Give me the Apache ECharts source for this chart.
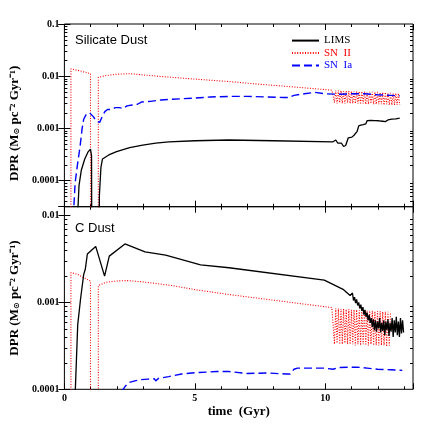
<!DOCTYPE html>
<html>
<head>
<meta charset="utf-8">
<script src="https://cdn.jsdelivr.net/npm/echarts@6.0.0/dist/echarts.min.js"></script>
<style>
html, body { margin: 0; padding: 0; background: #fff; }
#chart { width: 436px; height: 436px; }
</style>
</head>
<body>
<div id="chart"></div>
<script>
// ---- data: [time (Gyr), DPR] ----
var xMax = 13.36;
var minorX = [1, 2, 3, 4, 6, 7, 8, 9, 11, 12, 13];
var minorSil = [4e-5, 5e-5, 6e-5, 7e-5, 8e-5, 9e-5,
    2e-4, 3e-4, 4e-4, 5e-4, 6e-4, 7e-4, 8e-4, 9e-4,
    2e-3, 3e-3, 4e-3, 5e-3, 6e-3, 7e-3, 8e-3, 9e-3,
    2e-2, 3e-2, 4e-2, 5e-2, 6e-2, 7e-2, 8e-2, 9e-2];
var minorC = [2e-4, 3e-4, 4e-4, 5e-4, 6e-4, 7e-4, 8e-4, 9e-4,
    2e-3, 3e-3, 4e-3, 5e-3, 6e-3, 7e-3, 8e-3, 9e-3];

// silicate dust
var limsSil = [
    [0.50, 1e-7], [0.52, 3e-5], [0.56, 8e-5], [0.65, 0.00016], [0.78, 0.00026], [0.90, 0.00035],
    [1.00, 0.00040], [1.04, 0.00030], [1.06, 1e-7], [1.32, 1e-7], [1.34, 5e-5], [1.40, 0.00018],
    [1.46, 0.00026], [1.7, 0.00031], [2.0, 0.00036], [2.5, 0.00043], [3.0, 0.00048], [3.5, 0.00052],
    [4.0, 0.00055], [5.0, 0.00058], [6.3, 0.00060], [8.0, 0.00058], [10.28, 0.00055],
    [10.35, 0.00056], [10.40, 0.00060], [10.48, 0.00052], [10.55, 0.00049], [10.62, 0.00052],
    [10.70, 0.00045], [10.78, 0.00047], [10.84, 0.00045], [10.88, 0.00066], [10.95, 0.00070],
    [11.02, 0.00068], [11.10, 0.00074], [11.16, 0.00073], [11.22, 0.00088], [11.28, 0.00112],
    [11.36, 0.00115], [11.45, 0.00118], [11.55, 0.00122], [11.60, 0.00140], [11.75, 0.00142],
    [11.90, 0.00141], [12.05, 0.00140], [12.20, 0.00137], [12.30, 0.00135], [12.40, 0.00145],
    [12.55, 0.00150], [12.70, 0.00152], [12.85, 0.00158]
];
var sn2Sil = [
    [0.25, 1e-7], [0.25, 0.0138], [0.50, 0.0130], [0.75, 0.0121], [1.00, 0.0112], [1.00, 1e-7],
    [1.30, 1e-7], [1.30, 0.0095], [1.6, 0.0103], [2.0, 0.0109], [2.5, 0.0112], [3.0, 0.0106],
    [4.0, 0.0096], [5.0, 0.0088], [6.3, 0.0079], [7.5, 0.0070], [9.0, 0.0061], [10.25, 0.0054]
];
var bandTime = [10.30, 10.35, 10.40, 10.45, 10.50, 10.55, 10.60, 10.65, 10.70, 10.75,
    10.80, 10.85, 10.90, 10.95, 11.00, 11.05, 11.10, 11.15, 11.20, 11.25,
    11.30, 11.35, 11.40, 11.45, 11.50, 11.55, 11.60, 11.65, 11.70, 11.75,
    11.80, 11.85, 11.90, 11.95, 12.00, 12.05, 12.10, 12.15, 12.20, 12.25,
    12.30, 12.35, 12.40, 12.45, 12.50, 12.55, 12.60, 12.65, 12.70, 12.75,
    12.80, 12.85];
var sn2SilBand = [0.0054, 0.0031, 0.0053, 0.0030, 0.0053, 0.0031, 0.0053, 0.0030, 0.0052, 0.0030,
    0.0052, 0.0031, 0.0052, 0.0030, 0.0052, 0.0030, 0.0051, 0.0030, 0.0051, 0.0030,
    0.0051, 0.0029, 0.0051, 0.0030, 0.0051, 0.0029, 0.0050, 0.0029, 0.0050, 0.0030,
    0.0050, 0.0029, 0.0050, 0.0029, 0.0050, 0.0029, 0.0049, 0.0029, 0.0049, 0.0028,
    0.0049, 0.0029, 0.0048, 0.0028, 0.0048, 0.0028, 0.0047, 0.0028, 0.0047, 0.0028,
    0.0047, 0.0028];
var sn1aSil = [
    [0.33, 1e-7], [0.36, 3e-5], [0.41, 9e-5], [0.50, 0.0002], [0.60, 0.00045], [0.68, 0.0010],
    [0.74, 0.0015], [0.82, 0.0018], [0.96, 0.0020], [1.10, 0.0017], [1.22, 0.0014], [1.35, 0.0013],
    [1.45, 0.0017], [1.55, 0.0021], [1.65, 0.0023], [1.80, 0.0023], [1.95, 0.0025], [2.10, 0.0025],
    [2.25, 0.0024], [2.40, 0.0027], [2.60, 0.0028], [2.80, 0.0029], [2.95, 0.0032], [3.3, 0.0033],
    [3.7, 0.0035], [4.0, 0.0036], [4.5, 0.0037], [5.0, 0.0038], [5.6, 0.0040], [6.3, 0.0041],
    [7.0, 0.0041], [7.8, 0.0040], [8.4, 0.0039], [8.6, 0.0039], [8.8, 0.0043], [9.2, 0.0046],
    [9.6, 0.0049], [10.0, 0.0046], [10.5, 0.0045], [11.0, 0.0046], [11.5, 0.0046], [12.0, 0.0044],
    [12.5, 0.0043], [12.85, 0.0042]
];

// carbon dust
var limsC = [
    [0.40, 1e-6], [0.42, 0.0001], [0.51, 0.00055], [0.62, 0.0011], [0.74, 0.0021], [0.80, 0.0024],
    [0.88, 0.0036], [1.20, 0.0044], [1.54, 0.0020], [1.72, 0.0034], [2.32, 0.0047], [3.09, 0.0038],
    [3.88, 0.0035], [5.22, 0.0027], [6.31, 0.0025], [9.96, 0.0018], [10.7, 0.0014], [10.95, 0.0012]
];
var noiseTime = [11.00, 11.04, 11.08, 11.12, 11.16, 11.20, 11.24, 11.28, 11.32, 11.36,
    11.40, 11.44, 11.48, 11.52, 11.56, 11.60, 11.64, 11.68, 11.72, 11.76,
    11.80, 11.84, 11.88, 11.92, 11.96, 12.00, 12.04, 12.08, 12.12, 12.16,
    12.20, 12.24, 12.28, 12.32, 12.36, 12.40, 12.44, 12.48, 12.52, 12.56,
    12.60, 12.64, 12.68, 12.72, 12.76, 12.80, 12.84, 12.88, 12.92, 12.96,
    13.00];
var limsCNoise = [0.00117, 0.00128, 0.00105, 0.00115, 0.00098, 0.00108, 0.00092, 0.00100, 0.00085, 0.00094,
    0.00080, 0.00088, 0.00072, 0.00082, 0.00068, 0.00076, 0.00062, 0.00072, 0.00058, 0.00066,
    0.00052, 0.00064, 0.00048, 0.00062, 0.00046, 0.00060, 0.00050, 0.00066, 0.00045, 0.00058,
    0.00047, 0.00062, 0.00042, 0.00060, 0.00048, 0.00064, 0.00041, 0.00058, 0.00046, 0.00066,
    0.00040, 0.00062, 0.00045, 0.00068, 0.00042, 0.00060, 0.00040, 0.00066, 0.00044, 0.00062,
    0.00045];
var sn2C = [
    [0.25, 1e-7], [0.25, 0.0022], [0.5, 0.0021], [0.75, 0.00192], [1.0, 0.00175], [1.0, 1e-7],
    [1.3, 1e-7], [1.3, 0.00156], [1.6, 0.0017], [2.0, 0.00176], [2.42, 0.00178], [3.0, 0.00172],
    [4.12, 0.00156], [5.0, 0.0014], [6.31, 0.00123], [8.0, 0.00106], [10.25, 0.00087]
];
var sn2CBand = [0.00086, 0.00033, 0.00085, 0.00034, 0.00085, 0.00033, 0.00084, 0.00033, 0.00084, 0.00034,
    0.00083, 0.00033, 0.00083, 0.00033, 0.00082, 0.00033, 0.00082, 0.00032, 0.00082, 0.00033,
    0.00081, 0.00032, 0.00081, 0.00033, 0.00081, 0.00032, 0.00080, 0.00032, 0.00080, 0.00033,
    0.00080, 0.00032, 0.00079, 0.00032, 0.00079, 0.00032, 0.00079, 0.00032, 0.00078, 0.00032,
    0.00078, 0.00031, 0.00078, 0.00032, 0.00077];
var sn1aC = [
    [2.10, 5e-5], [2.25, 0.0001], [2.35, 0.00011], [2.48, 0.00012], [2.7, 0.000125], [2.91, 0.000129],
    [3.2, 0.000131], [3.45, 0.000132], [3.5, 0.000125], [3.6, 0.000133], [4.0, 0.00014], [4.49, 0.00015],
    [5.0, 0.000155], [5.83, 0.00016], [6.31, 0.00016], [7.0, 0.000152], [7.77, 0.000154], [8.5, 0.00015],
    [8.65, 0.00015], [8.8, 0.00017], [8.93, 0.000175], [9.96, 0.000175], [10.3, 0.00017], [10.5, 0.000178],
    [11.2, 0.00018], [11.6, 0.000175], [12.0, 0.00017], [12.5, 0.000168], [12.95, 0.000165]
];

function zip(times, vals) {
    return vals.map(function (v, i) { return [times[i], v]; });
}

var serif = 'Liberation Serif';
var RED = '#ff0000', BLUE = '#0000ff';

function logLabel(v) {
    var e = Math.log10(v);
    var r = Math.round(e);
    if (Math.abs(e - r) > 1e-6) return '';
    return r >= 0 ? String(Math.pow(10, r)) : Math.pow(10, r).toFixed(-r);
}

function xAx(grid, pos, labels) {
    return {
        type: 'value', gridIndex: grid, position: pos, min: 0, max: xMax, interval: 5,
        axisLine: { show: false, onZero: false },
        splitLine: { show: false },
        axisTick: { show: true, inside: true, length: 6, lineStyle: { color: '#000', width: 1 } },
        axisLabel: {
            show: labels, margin: 4, color: '#000', fontFamily: serif, fontWeight: 'bold', fontSize: 10,
            formatter: function (v) { return v % 5 === 0 ? String(v) : ''; }
        }
    };
}

function yAx(grid, pos, min, max, labels, pad) {
    var ax = {
        type: 'log', logBase: 10, gridIndex: grid, position: pos, min: min, max: max,
        axisLine: { show: false },
        splitLine: { show: false },
        axisTick: { show: true, inside: true, length: 6, lineStyle: { color: '#000', width: 1 } },
        axisLabel: {
            show: labels, margin: 5, color: '#000', fontFamily: serif, fontWeight: 'bold', fontSize: 10,
            formatter: logLabel
        }
    };
    if (labels) {
        ax.name = 'DPR (M{s|\u2299} pc\u207b\u00b2 Gyr\u207b\u00b9)';
        ax.nameLocation = 'middle';
        ax.nameGap = 30;
        ax.nameTextStyle = {
            color: '#000', fontFamily: serif, fontWeight: 'bold', fontSize: 13, padding: pad,
            rich: { s: { fontFamily: 'DejaVu Sans', fontSize: 8, fontWeight: 'bold', verticalAlign: 'bottom', color: '#000' } }
        };
    }
    return ax;
}

// minor ticks placed through the axis scales (log minors on y, unit minors on x)
function minorTicks(xi, yi, yVals, yRef) {
    var data = yVals.map(function (v) { return [0, v, 0]; })
        .concat(minorX.map(function (t) { return [t, yRef, 1]; }));
    return {
        type: 'custom', xAxisIndex: xi, yAxisIndex: yi, silent: true,
        data: data,
        encode: { x: 0, y: 1 },
        renderItem: function (params, api) {
            var p = api.coord([api.value(0), api.value(1)]);
            var cs = params.coordSys;
            var st = { stroke: '#000', lineWidth: 1 };
            if (api.value(2) === 0) {
                var y = Math.round(p[1]) + 0.5;
                return {
                    type: 'group', children: [
                        { type: 'line', shape: { x1: cs.x, y1: y, x2: cs.x + 3, y2: y }, style: st },
                        { type: 'line', shape: { x1: cs.x + cs.width - 3, y1: y, x2: cs.x + cs.width, y2: y }, style: st }
                    ]
                };
            }
            var x = Math.round(p[0]) + 0.5;
            return {
                type: 'group', children: [
                    { type: 'line', shape: { x1: x, y1: cs.y, x2: x, y2: cs.y + 3 }, style: st },
                    { type: 'line', shape: { x1: x, y1: cs.y + cs.height - 3, x2: x, y2: cs.y + cs.height }, style: st }
                ]
            };
        }
    };
}

function line(name, xi, yi, data, color, type, width) {
    return {
        name: name, type: 'line', xAxisIndex: xi, yAxisIndex: yi, data: data,
        symbol: 'none', showSymbol: false, silent: true,
        lineStyle: { color: color, width: width, type: type },
        itemStyle: { color: color }
    };
}

var chart = echarts.init(document.getElementById('chart'));
chart.setOption({
    animation: false,
    backgroundColor: '#fff',
    title: [
        { text: 'Silicate Dust', left: 75, top: 34, padding: 0,
          textStyle: { fontFamily: 'Liberation Sans', fontWeight: 'normal', fontSize: 13, color: '#000' } },
        { text: 'C Dust', left: 75, top: 222, padding: 0,
          textStyle: { fontFamily: 'Liberation Sans', fontWeight: 'normal', fontSize: 13, color: '#000' } }
    ],
    legend: {
        orient: 'vertical', left: 291, top: 35, padding: 0,
        itemWidth: 27, itemHeight: 14, itemGap: 1.3,
        itemStyle: { opacity: 0 },
        formatter: function (n) { return n.replace(' ', '  '); },
        textStyle: { fontFamily: serif, fontSize: 11 },
        data: [
            { name: 'LIMS', textStyle: { color: '#000' } },
            { name: 'SN II', textStyle: { color: RED } },
            { name: 'SN Ia', textStyle: { color: BLUE } }
        ]
    },
    grid: [
        { left: 47, right: 23, top: 24, height: 182.7, show: true, borderColor: '#000', borderWidth: 1 },
        { left: 47, right: 23, top: 206.7, height: 182.6, show: true, borderColor: '#000', borderWidth: 1 }
    ],
    xAxis: [
        xAx(0, 'bottom', false),
        xAx(0, 'top', false),
        Object.assign(xAx(1, 'bottom', true), {
            name: 'time  (Gyr)', nameLocation: 'middle', nameGap: 16,
            nameTextStyle: { color: '#000', fontFamily: serif, fontWeight: 'bold', fontSize: 13 }
        }),
        xAx(1, 'top', false)
    ],
    yAxis: [
        yAx(0, 'left', Math.pow(10, -4.5), 0.1, true, [0, 16, 0, 0]),
        yAx(0, 'right', Math.pow(10, -4.5), 0.1, false),
        yAx(1, 'left', 1e-4, Math.pow(10, -1.9), true, 0),
        yAx(1, 'right', 1e-4, Math.pow(10, -1.9), false)
    ],
    series: [
        minorTicks(0, 0, minorSil, 0.001),
        minorTicks(2, 2, minorC, 0.001),
        line('SN II', 0, 0, sn2Sil.concat(zip(bandTime, sn2SilBand)), RED, [1, 1.6], 1.1),
        line('SN Ia', 0, 0, sn1aSil, BLUE, [8, 4], 1.4),
        line('LIMS', 0, 0, limsSil, '#000', 'solid', 1.3),
        line('SN II', 2, 2, sn2C.concat(zip(bandTime, sn2CBand)), RED, [1, 1.6], 1.1),
        line('SN Ia', 2, 2, sn1aC, BLUE, [8, 4], 1.4),
        line('LIMS', 2, 2, limsC.concat(zip(noiseTime, limsCNoise)), '#000', 'solid', 1.3)
    ]
});
</script>
</body>
</html>
